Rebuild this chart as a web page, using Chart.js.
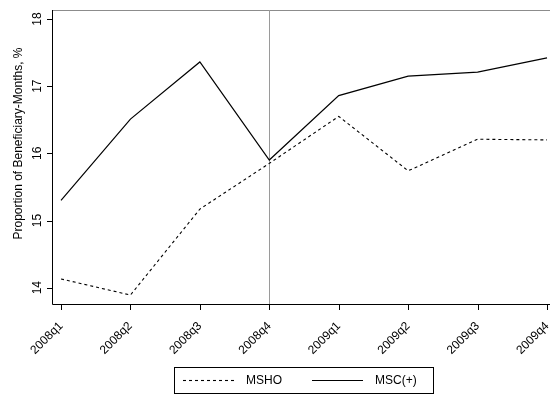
<!DOCTYPE html>
<html>
<head>
<meta charset="utf-8">
<script src="https://cdn.jsdelivr.net/npm/chart.js@4/dist/chart.umd.min.js"></script>
<style>
html,body{margin:0;padding:0;background:#fff;}
#wrap{width:550px;height:397px;position:relative;}
</style>
</head>
<body>
<div id="wrap"><canvas id="c" width="550" height="397"></canvas></div>
<script>
const categories = ["2008q1","2008q2","2008q3","2008q4","2009q1","2009q2","2009q3","2009q4"];
const mshoValues = [14.13, 13.89, 15.17, 15.85, 16.55, 15.74, 16.21, 16.20];
const mscValues  = [15.30, 16.51, 17.36, 15.90, 16.86, 17.15, 17.21, 17.42];
const yTicks = [14, 15, 16, 17, 18];
const yTitle = "Proportion of Beneficiary-Months, %";
const markerCategory = "2008q4";

const FONT = "'Liberation Sans', Arial, sans-serif";

const toPts = vals => vals.map((v, i) => ({x: i, y: v}));

const decor = {
  id: 'decor',
  beforeDatasetsDraw(chart) {
    const ctx = chart.ctx, a = chart.chartArea;
    const xs = chart.scales.x;
    ctx.save();
    ctx.strokeStyle = '#8c8c8c';
    ctx.lineWidth = 1;
    ctx.beginPath();
    ctx.moveTo(a.left, a.top + 0.5);
    ctx.lineTo(550, a.top + 0.5);
    ctx.stroke();
    const vx = Math.round(xs.getPixelForValue(categories.indexOf(markerCategory))) + 0.5;
    ctx.strokeStyle = '#9a9a9a';
    ctx.beginPath();
    ctx.moveTo(vx, a.top);
    ctx.lineTo(vx, a.bottom);
    ctx.stroke();
    ctx.restore();
  },
  afterDraw(chart) {
    const ctx = chart.ctx, a = chart.chartArea;
    const ys = chart.scales.y, xs = chart.scales.x;
    ctx.save();
    ctx.strokeStyle = '#000';
    ctx.lineWidth = 1;
    ctx.beginPath();
    ctx.moveTo(a.left + 0.5, a.top);
    ctx.lineTo(a.left + 0.5, a.bottom + 0.5);
    ctx.lineTo(550, a.bottom + 0.5);
    ctx.stroke();
    // tick marks
    ctx.beginPath();
    yTicks.forEach(t => {
      const py = Math.round(ys.getPixelForValue(t)) + 0.5;
      ctx.moveTo(a.left - 5, py);
      ctx.lineTo(a.left, py);
    });
    categories.forEach((c, i) => {
      const px = Math.round(xs.getPixelForValue(i)) + 0.5;
      ctx.moveTo(px, a.bottom);
      ctx.lineTo(px, a.bottom + 6);
    });
    ctx.stroke();
    ctx.fillStyle = '#000';
    ctx.font = '12px ' + FONT;
    ctx.textAlign = 'center';
    ctx.textBaseline = 'alphabetic';
    yTicks.forEach(t => {
      const py = ys.getPixelForValue(t);
      ctx.save();
      ctx.translate(41, py);
      ctx.rotate(-Math.PI / 2);
      ctx.fillText(String(t), 0, 0);
      ctx.restore();
    });
    ctx.save();
    ctx.translate(22, 143.5);
    ctx.rotate(-Math.PI / 2);
    ctx.fillText(yTitle, 0, 0);
    ctx.restore();
    const lx = 174.5, ly = 367.5, lw = 259, lh = 26;
    ctx.strokeStyle = '#000';
    ctx.lineWidth = 1;
    ctx.strokeRect(lx, ly, lw, lh);
    const midY = ly + lh / 2 + 0.5;
    const ds = chart.data.datasets;
    const items = [{ds: ds[0], x0: 183, x1: 234, tx: 246}, {ds: ds[1], x0: 312, x1: 363, tx: 375}];
    items.forEach(it => {
      ctx.beginPath();
      ctx.setLineDash(it.ds.borderDash || []);
      ctx.strokeStyle = it.ds.borderColor;
      ctx.lineWidth = it.ds.borderWidth;
      ctx.moveTo(it.x0, midY - 0.5);
      ctx.lineTo(it.x1, midY - 0.5);
      ctx.stroke();
      ctx.setLineDash([]);
      ctx.fillStyle = '#000';
      ctx.textAlign = 'left';
      ctx.textBaseline = 'middle';
      ctx.fillText(it.ds.label, it.tx, midY);
    });
    ctx.restore();
  }
};

new Chart(document.getElementById('c'), {
  type: 'line',
  data: {
    datasets: [
      {label: 'MSHO', data: toPts(mshoValues), borderColor: '#000', borderWidth: 1.1, borderDash: [3, 3], pointRadius: 0, fill: false, tension: 0},
      {label: 'MSC(+)', data: toPts(mscValues), borderColor: '#000', borderWidth: 1.2, pointRadius: 0, fill: false, tension: 0}
    ]
  },
  options: {
    responsive: false,
    animation: false,
    devicePixelRatio: 1,
    layout: {padding: {top: 10, left: 0, right: 0, bottom: 0}},
    plugins: {legend: {display: false}, tooltip: {enabled: false}},
    scales: {
      x: {
        type: 'linear',
        min: -0.1297,
        max: 7.043,
        afterBuildTicks: s => { s.ticks = categories.map((c, i) => ({value: i})); },
        afterFit: s => { s.height = 93; s.paddingLeft = 0; s.paddingRight = 0; },
        grid: {display: false},
        border: {display: false},
        ticks: {
          autoSkip: false,
          minRotation: 45, maxRotation: 45,
          padding: 7,
          color: '#000',
          font: {family: FONT, size: 12},
          callback: (v) => categories[Math.round(v)]
        }
      },
      y: {
        type: 'linear',
        min: 13.757,
        max: 18.134,
        afterBuildTicks: s => { s.ticks = yTicks.map(v => ({value: v})); },
        afterFit: s => { s.width = 52; s.paddingTop = 0; s.paddingBottom = 0; },
        grid: {display: false},
        border: {display: false},
        ticks: {display: false}
      }
    }
  },
  plugins: [decor]
});
</script>
</body>
</html>
